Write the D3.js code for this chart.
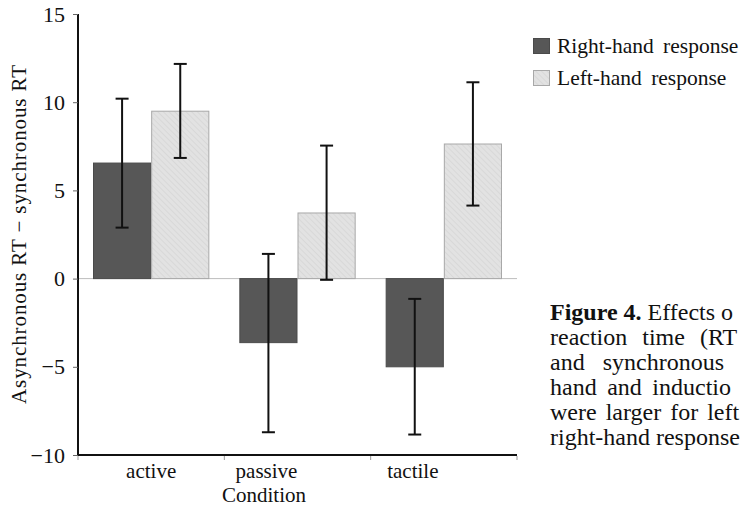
<!DOCTYPE html>
<html><head><meta charset="utf-8">
<script src="https://cdn.jsdelivr.net/npm/d3@7"></script>
<style>
html,body{margin:0;padding:0;background:#fff;overflow:hidden}
text{font-family:"Liberation Serif","Times New Roman",serif;fill:#111}
</style></head>
<body><svg id="c" width="740" height="507"></svg>
<script>
const categories = ["active", "passive", "tactile"];
const series = ["Right-hand response", "Left-hand response"];
const rightValues = [6.55, -3.63, -5.0];
const rightLow = [2.89, -8.71, -8.84];
const rightHigh = [10.2, 1.4, -1.15];
const leftValues = [9.49, 3.72, 7.63];
const leftLow = [6.84, -0.07, 4.14];
const leftHigh = [12.17, 7.54, 11.13];
const yTicks = [-10, -5, 0, 5, 10, 15];
const xLabelShift = [0, -31, -31];
const captionLines = [
  ["Figure 4.", " Effects o", 0],
  ["", "reaction time (RT", 9],
  ["", "and synchronous", 12],
  ["", "hand and inductio", 4.5],
  ["", "were larger for left", 3],
  ["", "right-hand response", 0]
];

const svg = d3.select("#c");
const defs = svg.append("defs");
const pat = defs.append("pattern").attr("id","hatch").attr("patternUnits","userSpaceOnUse")
  .attr("width",4).attr("height",4).attr("patternTransform","rotate(-45)");
pat.append("rect").attr("width",4).attr("height",4).attr("fill","#e2e2e2");
pat.append("line").attr("x1",0).attr("y1",0).attr("x2",0).attr("y2",4).attr("stroke","#d2d2d2").attr("stroke-width",1.2);

const x0 = 78, x1 = 517, yTop = 14, yBot = 455;
const y = d3.scaleLinear().domain([-10, 15]).range([yBot, yTop]);
const xb = d3.scaleBand().domain(categories).range([x0, x1]).padding(0);
const xs = d3.scaleBand().domain(series).range([15, xb.bandwidth() - 15]).padding(0);

const data = [];
categories.forEach((c, i) => {
  data.push({c, s: series[0], v: rightValues[i], lo: rightLow[i], hi: rightHigh[i]});
  data.push({c, s: series[1], v: leftValues[i], lo: leftLow[i], hi: leftHigh[i]});
});
const fill = s => s === series[0] ? "#575757" : "url(#hatch)";
const stroke = s => s === series[0] ? "#4a4a4a" : "#a8a8a8";

// zero line
svg.append("line").attr("x1", x0).attr("x2", x1).attr("y1", y(0)).attr("y2", y(0))
  .attr("stroke", "#bdbdbd").attr("stroke-width", 1);

// bars
svg.selectAll("rect.bar").data(data).enter().append("rect").attr("class","bar")
  .attr("x", d => xb(d.c) + xs(d.s) + 0.5)
  .attr("width", xs.bandwidth() - 1)
  .attr("y", d => Math.min(y(d.v), y(0)))
  .attr("height", d => Math.abs(y(d.v) - y(0)))
  .attr("fill", d => fill(d.s)).attr("stroke", d => stroke(d.s)).attr("stroke-width", 1);

// error bars
const eb = svg.selectAll("g.eb").data(data).enter().append("g")
  .attr("transform", d => `translate(${xb(d.c) + xs(d.s) + xs.bandwidth()/2},0)`);
eb.append("line").attr("y1", d => y(d.lo)).attr("y2", d => y(d.hi)).attr("stroke","#111").attr("stroke-width",2);
eb.append("line").attr("x1",-6.5).attr("x2",6.5).attr("y1", d => y(d.lo)).attr("y2", d => y(d.lo)).attr("stroke","#111").attr("stroke-width",2);
eb.append("line").attr("x1",-6.5).attr("x2",6.5).attr("y1", d => y(d.hi)).attr("y2", d => y(d.hi)).attr("stroke","#111").attr("stroke-width",2);

// y axis
const yAxis = svg.append("g").attr("transform", `translate(${x0},0)`)
  .call(d3.axisLeft(y).tickValues(yTicks).tickSize(5).tickPadding(8).tickFormat(d => d < 0 ? "\u2212" + Math.abs(d) : d));
yAxis.select(".domain").attr("stroke","#111").attr("stroke-width",2).attr("d", `M0,${yTop}V${yBot}`);
yAxis.selectAll(".tick line").attr("stroke","#666");
yAxis.selectAll(".tick text").attr("font-size", 22).attr("font-family", '"Liberation Serif",serif').attr("fill","#111");

// x axis
const xAxis = svg.append("g").attr("transform", `translate(0,${yBot})`)
  .call(d3.axisBottom(xb).tickSize(0).tickPadding(0));
xAxis.select(".domain").attr("stroke","#111").attr("stroke-width",2).attr("d", `M${x0},0H${x1}`);
xAxis.selectAll(".tick text").remove();
const edges = categories.map(c => xb(c)).concat([x1]);
xAxis.selectAll("line.edge").data(edges).enter().append("line").attr("class","edge")
  .attr("x1", d => d).attr("x2", d => d).attr("y1", 1).attr("y2", 5).attr("stroke","#999");
xAxis.selectAll("text.cl").data(categories).enter().append("text").attr("class","cl")
  .attr("x", (d, i) => xb(d) + xb.bandwidth()/2 + xLabelShift[i]).attr("y", 23)
  .attr("text-anchor","middle").attr("font-size", 21).text(d => d);

svg.append("text").attr("x", 264).attr("y", 502).attr("text-anchor","middle").attr("font-size",21).text("Condition");
svg.append("text").attr("transform", `translate(26,234) rotate(-90)`)
  .attr("text-anchor","middle").attr("font-size",21).attr("letter-spacing",0.9)
  .text("Asynchronous RT \u2212 synchronous RT");

// legend
const lg = svg.append("g");
series.forEach((s, i) => {
  lg.append("rect").attr("x", 533.5).attr("y", 38.5 + i*32).attr("width", 16).attr("height", 15)
    .attr("fill", fill(s)).attr("stroke", stroke(s));
  lg.append("text").attr("x", 557).attr("y", 53 + i*32).attr("font-size", 21.5).attr("word-spacing", 4).text(s);
});

// caption
captionLines.forEach((l, i) => {
  const t = svg.append("text").attr("x", 550).attr("y", 320 + i*25).attr("font-size", 24).attr("word-spacing", l[2]);
  if (l[0]) t.append("tspan").attr("font-weight","bold").text(l[0]);
  t.append("tspan").text(l[1]);
});
</script></body></html>
